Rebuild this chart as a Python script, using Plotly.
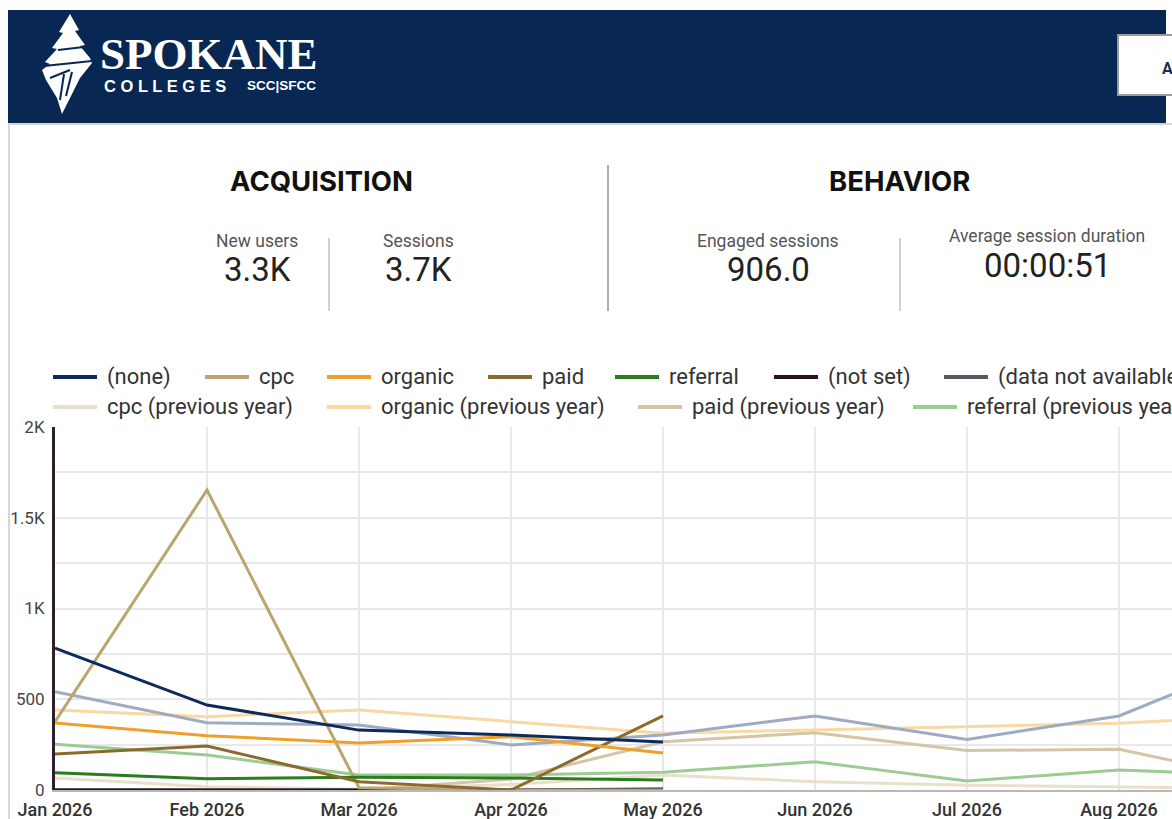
import plotly.graph_objects as go

W, H = 1172, 819

# ---------------- data ----------------
months = ["Jan 2026", "Feb 2026", "Mar 2026", "Apr 2026", "May 2026",
          "Jun 2026", "Jul 2026", "Aug 2026", "Sep 2026"]

# current year (Jan-May)
none_cur = [782, 468, 330, 303, 264]
cpc_cur = [376, 1653, 12, 0, 0]
organic_cur = [369, 299, 259, 294, 204]
paid_cur = [198, 242, 46, 0, 408]
referral_cur = [95, 62, 70, 66, 55]
notset_cur = [0, 0, 0, 0, 6]
dna_cur = [0, 0, 0, 0, 0]

# previous year (Jan-Sep)
none_prev = [542, 371, 358, 248, 303, 408, 279, 408, 750]
cpc_prev = [66, 18, 4, 30, 83, 46, 26, 14, 8]
organic_prev = [441, 404, 441, 376, 312, 331, 348, 368, 409]
paid_prev = [0, 0, 0, 60, 266, 316, 217, 225, 45]
referral_prev = [252, 193, 83, 83, 98, 155, 50, 110, 80]

y_tickvals = [0, 250, 500, 750, 1000, 1250, 1500, 1750, 2000]
y_ticktext = ["0", "", "500", "", "1K", "", "1.5K", "", "2K"]

kpi_labels = ["New users", "Sessions", "Engaged sessions", "Average session duration"]
kpi_values = ["3.3K", "3.7K", "906.0", "00:00:51"]
section_titles = ["ACQUISITION", "BEHAVIOR"]

colors = {
    "(none)": "#0d2a5c",
    "cpc": "#b9a66e",
    "organic": "#f0a02a",
    "paid": "#8c6a2e",
    "referral": "#2a7d1c",
    "(not set)": "#2a1020",
    "(data not available)": "#5e5865",
    "cpc (previous year)": "#e9e0cb",
    "organic (previous year)": "#f9d9a3",
    "paid (previous year)": "#d3c5a6",
    "referral (previous year)": "#9dcb94",
    "(none) (previous year)": "#9eabc2",
}

prev_series = [
    ("cpc (previous year)", cpc_prev),
    ("paid (previous year)", paid_prev),
    ("referral (previous year)", referral_prev),
    ("organic (previous year)", organic_prev),
    ("(none) (previous year)", none_prev),
]
cur_series = [
    ("(data not available)", dna_cur),
    ("(not set)", notset_cur),
    ("cpc", cpc_cur),
    ("referral", referral_cur),
    ("paid", paid_cur),
    ("organic", organic_cur),
    ("(none)", none_cur),
]

legend_row1 = ["(none)", "cpc", "organic", "paid", "referral", "(not set)", "(data not available)"]
legend_row2 = ["cpc (previous year)", "organic (previous year)", "paid (previous year)",
               "referral (previous year)"]

# ---------------- helpers (page pixel -> paper) ----------------
def px(x):
    return x / W

def py(y):
    return 1 - y / H

fig = go.Figure()

for name, vals in prev_series + cur_series:
    fig.add_trace(go.Scatter(
        x=months[:len(vals)], y=vals, mode="lines", name=name,
        line=dict(color=colors[name], width=3),
        showlegend=False, hoverinfo="skip"))

# plot area geometry (page pixels)
PL, PR, PT, PB = 55, 1172, 427, 790
MONTH_W = 152

fig.update_layout(
    width=W, height=H, autosize=False,
    margin=dict(l=0, r=0, t=0, b=0, pad=0),
    paper_bgcolor="white", plot_bgcolor="white",
    font=dict(family="Roboto, sans-serif", color="#333"),
    showlegend=False,
    xaxis=dict(
        domain=[px(PL), px(PR)], automargin=False,
        type="category", categoryorder="array", categoryarray=months,
        range=[0, (PR - PL) / MONTH_W],
        showgrid=True, gridcolor="#e8e8e8", gridwidth=2,
        showline=True, linecolor="#b8b8b8", linewidth=2,
        ticks="", zeroline=False,
        tickfont=dict(size=18, color="#333", weight=500),
        ticklabelstandoff=2,
    ),
    yaxis=dict(
        domain=[py(PB), py(PT)], automargin=False,
        range=[0, 2000],
        tickvals=y_tickvals, ticktext=y_ticktext,
        showgrid=True, gridcolor="#e8e8e8", gridwidth=2,
        showline=True, linecolor="#2d1e29", linewidth=3,
        ticks="", zeroline=False,
        tickfont=dict(size=17, color="#444"),
        ticklabelstandoff=4,
    ),
)

shapes = []
ann = []

# header
shapes.append(dict(type="rect", xref="paper", yref="paper",
                   x0=px(8), x1=px(1166), y0=py(123), y1=py(10),
                   fillcolor="#082752", line=dict(width=0), layer="below"))
shapes.append(dict(type="line", xref="paper", yref="paper",
                   x0=px(8), x1=px(1172), y0=py(124), y1=py(124),
                   line=dict(color="#d4d4d4", width=2)))
shapes.append(dict(type="line", xref="paper", yref="paper",
                   x0=px(9), x1=px(9), y0=py(124), y1=py(819),
                   line=dict(color="#d8d8d8", width=2)))
# header button
shapes.append(dict(type="rect", xref="paper", yref="paper",
                   x0=px(1118), x1=px(1190), y0=py(95), y1=py(35),
                   fillcolor="white", line=dict(color="#9a9a9a", width=2)))
ann.append(dict(text="<b>A</b>", x=px(1160), y=py(68), xref="paper", yref="paper",
                xanchor="left", yanchor="middle", showarrow=False,
                font=dict(size=16, color="#1b2b4b", family="Roboto")))

# logo icon
def path_from(points):
    return "M " + " L ".join(f"{px(a):.5f},{py(b):.5f}" for a, b in points) + " Z"

icon = [(70, 14), (79, 30), (75, 31), (85, 45), (80, 46), (90, 58), (92, 63),
        (80, 78), (62, 114), (57, 98), (46, 80), (42, 70), (50, 64), (45, 62),
        (57, 49), (52, 48), (63, 33), (59, 32)]
shapes.append(dict(type="path", xref="paper", yref="paper", path=path_from(icon),
                   fillcolor="white", line=dict(width=0)))
for (a, b, c, d) in [(44, 66, 92, 61), (50, 78, 70, 70), (58, 50, 84, 47),
                     (64, 74, 60, 100), (72, 72, 66, 96)]:
    shapes.append(dict(type="line", xref="paper", yref="paper",
                       x0=px(a), y0=py(b), x1=px(c), y1=py(d),
                       line=dict(color="#082752", width=2)))

ann.append(dict(text="<b>SPOKANE</b>", x=px(98), y=py(54), xref="paper", yref="paper",
                xanchor="left", yanchor="middle", showarrow=False,
                font=dict(size=45, color="white", family="Liberation Serif")))
ann.append(dict(text="<b>C O L L E G E S</b>", x=px(102), y=py(86), xref="paper", yref="paper",
                xanchor="left", yanchor="middle", showarrow=False,
                font=dict(size=16.5, color="white", family="Liberation Sans")))
ann.append(dict(text="<b>SCC|SFCC</b>", x=px(245), y=py(86), xref="paper", yref="paper",
                xanchor="left", yanchor="middle", showarrow=False,
                font=dict(size=13.5, color="white", family="Liberation Sans")))

# KPI section
for title, cx in zip(section_titles, [321, 899]):
    ann.append(dict(text=f"<b>{title}</b>", x=px(cx), y=py(181), xref="paper", yref="paper",
                    xanchor="center", yanchor="middle", showarrow=False,
                    font=dict(size=27.5, color="#111", family="Inter")))
shapes.append(dict(type="line", xref="paper", yref="paper",
                   x0=px(608), x1=px(608), y0=py(165), y1=py(311),
                   line=dict(color="#b0b0b0", width=2)))
for sx in [329, 900]:
    shapes.append(dict(type="line", xref="paper", yref="paper",
                       x0=px(sx), x1=px(sx), y0=py(238), y1=py(311),
                       line=dict(color="#c0c0c0", width=1.5)))

kpi_pos = [(257, 241, 270), (418, 241, 270), (768, 241, 270), (1047, 236, 266)]
for lab, val, (cx, ly, vy) in zip(kpi_labels, kpi_values, kpi_pos):
    ann.append(dict(text=lab, x=px(cx), y=py(ly), xref="paper", yref="paper",
                    xanchor="center", yanchor="middle", showarrow=False,
                    font=dict(size=17.5, color="#555", family="Roboto")))
    ann.append(dict(text=val, x=px(cx), y=py(vy), xref="paper", yref="paper",
                    xanchor="center", yanchor="middle", showarrow=False,
                    font=dict(size=33, color="#222", family="Roboto")))

# legend
row1_x = [53, 205, 327, 488, 615, 774, 944]
row2_x = [53, 327, 638, 913]
for names, xs, yy in [(legend_row1, row1_x, 377), (legend_row2, row2_x, 407)]:
    for name, x0 in zip(names, xs):
        shapes.append(dict(type="line", xref="paper", yref="paper",
                           x0=px(x0), x1=px(x0 + 44), y0=py(yy), y1=py(yy),
                           line=dict(color=colors[name], width=4)))
        ann.append(dict(text=name, x=px(x0 + 52), y=py(yy), xref="paper", yref="paper",
                        xanchor="left", yanchor="middle", showarrow=False,
                        font=dict(size=22, color="#333", family="Roboto")))

fig.update_layout(shapes=shapes, annotations=ann)

fig.write_html("out.html", config={"displayModeBar": False},
               post_script="document.body.style.margin='0';document.body.style.overflow='hidden';")
